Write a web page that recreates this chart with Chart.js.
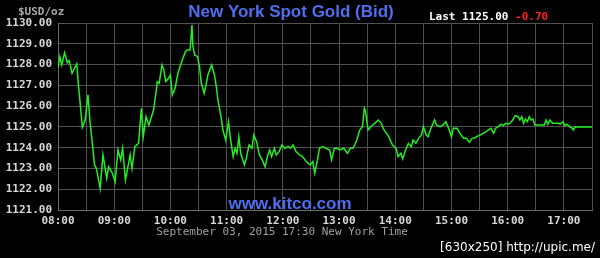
<!DOCTYPE html>
<html>
<head>
<meta charset="utf-8">
<script src="https://cdn.jsdelivr.net/npm/chart.js@4/dist/chart.umd.min.js"></script>
<style>
    body { margin: 0; background: #000; }
    canvas { display: block; background: #000; }
</style>
</head>
<body>
<canvas id="goldChart" width="600" height="258"></canvas>
<script>
// minutos depois das 08:00 (eixo x) e preço bid em USD/oz
const minutes = [
    0, 2, 4, 7, 10, 12, 15, 20, 22, 26, 29, 32, 34, 37, 39, 41, 45, 48, 52, 54,
    58, 61, 64, 67, 69, 72, 77, 79, 82, 86, 89, 91, 94, 97, 102, 105, 106, 108, 111, 113,
    115, 118, 120, 122, 125, 128, 132, 136, 138, 141, 143, 144, 146, 149, 151, 153, 156, 158, 160, 164,
    167, 169, 171, 174, 176, 179, 182, 184, 187, 189, 191, 193, 195, 199, 201, 204, 207, 209, 212, 215,
    218, 221, 224, 226, 228, 231, 233, 236, 239, 242, 246, 248, 251, 254, 258, 261, 265, 269, 272, 274,
    277, 279, 283, 286, 290, 292, 295, 298, 301, 305, 309, 312, 315, 319, 322, 325, 327, 328, 331, 334,
    338, 342, 345, 348, 353, 357, 361, 363, 366, 368, 371, 374, 377, 379, 382, 385, 388, 390, 393, 395,
    398, 402, 404, 408, 411, 414, 417, 420, 422, 426, 429, 433, 436, 439, 442, 445, 449, 452, 456, 459,
    462, 465, 467, 470, 473, 475, 478, 481, 484, 486, 488, 491, 493, 495, 497, 499, 501, 503, 505, 507,
    509, 513, 517, 519, 521, 523, 525, 528, 531, 534, 536, 539, 541, 543, 546, 549, 550, 552, 556, 570
];
const prices = [
    1127.84, 1128.38, 1127.98, 1128.57, 1128.09, 1128.19, 1127.58, 1128.03, 1126.93, 1124.98,
    1125.33, 1126.54, 1125.33, 1124.05, 1123.17, 1123.00, 1122.04, 1123.65, 1122.53, 1123.08,
    1122.77, 1122.36, 1123.89, 1123.41, 1123.97, 1122.44, 1123.65, 1123.00, 1124.05, 1124.21,
    1125.90, 1124.53, 1125.49, 1125.09, 1125.81, 1126.78, 1127.18, 1127.10, 1127.98, 1127.74,
    1127.18, 1127.34, 1127.50, 1126.54, 1126.86, 1127.58, 1128.14, 1128.62, 1128.70, 1128.70,
    1129.90, 1128.86, 1128.46, 1128.38, 1127.90, 1127.10, 1126.62, 1127.02, 1127.50, 1127.98,
    1127.50, 1126.93, 1126.21, 1125.49, 1124.85, 1124.37, 1125.25, 1124.45, 1123.57, 1123.97,
    1123.73, 1124.53, 1123.73, 1123.17, 1123.49, 1124.13, 1123.97, 1124.61, 1124.29, 1123.65,
    1123.41, 1123.08, 1123.65, 1123.89, 1123.57, 1123.97, 1123.65, 1123.81, 1124.13, 1123.97,
    1124.05, 1123.97, 1124.13, 1123.81, 1123.65, 1123.57, 1123.33, 1123.17, 1123.33, 1122.77,
    1123.41, 1123.97, 1124.05, 1123.97, 1123.89, 1123.41, 1123.97, 1123.97, 1123.89, 1123.97,
    1123.73, 1123.97, 1123.97, 1124.37, 1124.85, 1125.01, 1125.90, 1125.81, 1124.85, 1125.01,
    1125.17, 1125.33, 1125.17, 1124.85, 1124.53, 1124.13, 1123.97, 1123.57, 1123.73, 1123.46,
    1123.89, 1124.21, 1124.05, 1124.37, 1124.21, 1124.45, 1124.61, 1125.01, 1124.61, 1124.53,
    1124.93, 1125.33, 1125.09, 1125.01, 1125.09, 1125.25, 1124.93, 1124.53, 1124.93, 1124.93,
    1124.69, 1124.45, 1124.45, 1124.26, 1124.45, 1124.48, 1124.58, 1124.64, 1124.74, 1124.85,
    1124.93, 1124.69, 1124.93, 1125.01, 1125.13, 1125.06, 1125.17, 1125.13, 1125.25, 1125.38,
    1125.54, 1125.49, 1125.33, 1125.49, 1125.17, 1125.38, 1125.25, 1125.49, 1125.33, 1125.38,
    1125.09, 1125.09, 1125.09, 1125.09, 1125.33, 1125.13, 1125.33, 1125.17, 1125.17, 1125.17,
    1125.13, 1125.25, 1125.06, 1125.13, 1125.01, 1124.93, 1124.85, 1125.01, 1125.00, 1125.00
];
const hourLabels = ['08:00', '09:00', '10:00', '11:00', '12:00', '13:00', '14:00', '15:00', '16:00', '17:00'];

const monoFont = '"DejaVu Sans Mono", "Liberation Mono", monospace';

// textos extras do gráfico (título, última cotação, rodapé)
const textosPlugin = {
    id: 'textos',
    afterDraw(chart) {
        const ctx = chart.ctx;
        ctx.save();
        ctx.textBaseline = 'alphabetic';

        ctx.font = 'bold 17px "Liberation Sans", Arial, sans-serif';
        ctx.fillStyle = '#4f6ef0';
        ctx.textAlign = 'center';
        ctx.fillText('New York Spot Gold (Bid)', 291, 17);
        ctx.fillText('www.kitco.com', 290, 209);

        ctx.textAlign = 'left';
        ctx.font = 'bold 11px ' + monoFont;
        ctx.fillStyle = '#aaaaaa';
        ctx.fillText('$USD/oz', 18, 15);

        const last = 'Last 1125.00 ';
        ctx.fillStyle = '#ffffff';
        ctx.fillText(last, 429, 20);
        ctx.fillStyle = '#ff2020';
        ctx.fillText('-0.70', 429 + ctx.measureText(last).width, 20);

        ctx.font = '11px ' + monoFont;
        ctx.fillStyle = '#a0a0a0';
        ctx.textAlign = 'center';
        ctx.fillText('September 03, 2015 17:30 New York Time', 282, 235);

        ctx.font = '12px "DejaVu Sans", sans-serif';
        ctx.fillStyle = '#ffffff';
        ctx.textAlign = 'right';
        ctx.fillText('[630x250] http://upic.me/', 595, 251);
        ctx.restore();
    }
};

new Chart(document.getElementById('goldChart'), {
    type: 'line',
    data: {
        datasets: [{
            label: 'Gold Bid',
            data: minutes.map((m, i) => ({ x: m, y: prices[i] })),
            borderColor: '#22ee22',
            borderWidth: 1.5,
            pointRadius: 0,
            tension: 0,
            fill: false
        }]
    },
    options: {
        responsive: false,
        animation: false,
        devicePixelRatio: 1,
        layout: { padding: { top: 23, right: 8, left: 0, bottom: 0 } },
        plugins: {
            legend: { display: false },
            tooltip: { enabled: false }
        },
        scales: {
            x: {
                type: 'linear',
                min: 0,
                max: 570,
                afterFit: s => { s.height = 48; },
                grid: { color: '#525252', drawTicks: false },
                border: { color: '#6a6a6a' },
                ticks: {
                    stepSize: 30,
                    autoSkip: false,
                    maxRotation: 0,
                    padding: 5,
                    color: '#d8d8d8',
                    font: { family: monoFont, size: 11, weight: 'bold' },
                    callback: v => (v % 60 === 0 ? hourLabels[v / 60] : '')
                }
            },
            y: {
                min: 1121,
                max: 1130,
                afterFit: s => { s.width = 58; },
                grid: { color: '#525252', drawTicks: false },
                border: { color: '#6a6a6a' },
                ticks: {
                    stepSize: 1,
                    padding: 6,
                    color: '#d8d8d8',
                    font: { family: monoFont, size: 11, weight: 'bold' },
                    callback: v => v.toFixed(2)
                }
            }
        }
    },
    plugins: [textosPlugin]
});
</script>
</body>
</html>
